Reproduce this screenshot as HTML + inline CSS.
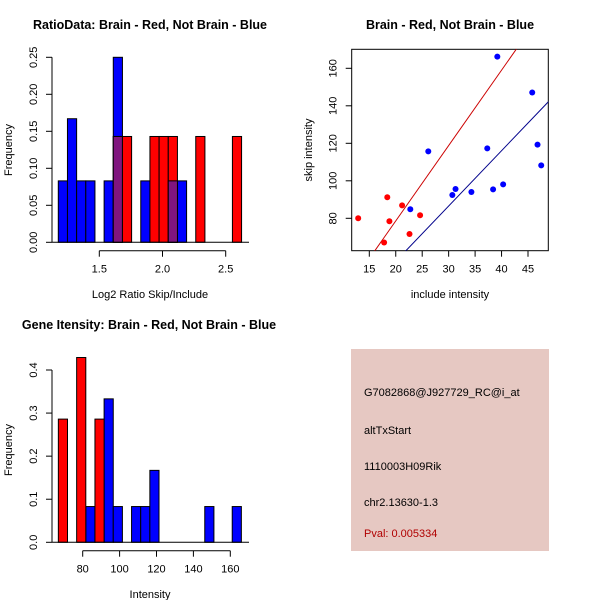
<!DOCTYPE html>
<html><head><meta charset="utf-8"><style>
html,body{margin:0;padding:0;background:#fff;width:600px;height:600px;overflow:hidden}
svg{display:block;font-family:"Liberation Sans",Arial,sans-serif}
.t{font-weight:bold;font-size:12.5px}
.l{font-size:11px}
.k{font-size:11px}
</style></head><body>
<svg id="s" width="600" height="600" xmlns="http://www.w3.org/2000/svg">
<text class="t" x="150" y="29" text-anchor="middle">RatioData: Brain - Red, Not Brain - Blue</text>
<text class="t" x="450" y="29" text-anchor="middle">Brain - Red, Not Brain - Blue</text>
<text class="t" x="149" y="329" text-anchor="middle">Gene Itensity: Brain - Red, Not Brain - Blue</text>
<text class="l" x="150" y="298" text-anchor="middle">Log2 Ratio Skip/Include</text>
<text class="l" x="12" y="150" text-anchor="middle" transform="rotate(-90 12 150)">Frequency</text>
<text class="l" x="450" y="298" text-anchor="middle">include intensity</text>
<text class="l" x="312" y="150" text-anchor="middle" transform="rotate(-90 312 150)">skip intensity</text>
<text class="l" x="150" y="598" text-anchor="middle">Intensity</text>
<text class="l" x="12" y="450" text-anchor="middle" transform="rotate(-90 12 450)">Frequency</text>
<g>
<rect x="351" y="349" width="198" height="202" fill="#e6c8c2"/>
<text class="k" x="364" y="396">G7082868@J927729_RC@i_at</text>
<text class="k" x="364" y="434">altTxStart</text>
<text class="k" x="364" y="470">1110003H09Rik</text>
<text class="k" x="364" y="506">chr2.13630-1.3</text>
<text class="k" x="364" y="537" fill="#b00000">Pval: 0.005334</text>
</g>
</svg>
<script>
// ---- Panel 1: ratio histogram ----
const ratioBinStart = 1.1756;
const ratioBinWidth = 0.0725;
const ratioBlue = [0.083,0.167,0.083,0.083,0,0.083,0.25,0,0,0.083,0,0,0.083,0.083,0,0,0,0,0,0];
const ratioRed  = [0,0,0,0,0,0,0.143,0.143,0,0,0.143,0.143,0.143,0,0,0.143,0,0,0,0.143];
const ratioXTicks = [1.5,2.0,2.5];
const ratioXLabels = ["1.5","2.0","2.5"];
const ratioYTicks = [0,0.05,0.10,0.15,0.20,0.25];
const ratioYLabels = ["0.00","0.05","0.10","0.15","0.20","0.25"];
// ---- Panel 2: scatter ----
const redX = [12.9,18.4,18.8,17.8,21.2,22.6,24.6];
const redY = [80.0,91.2,78.4,67.1,86.9,71.6,81.6];
const blueX = [22.75,26.15,30.7,31.3,34.3,37.3,38.4,40.3,39.2,45.8,46.8,47.5];
const blueY = [84.8,115.7,92.4,95.6,94.0,117.3,95.4,98.1,166.2,147.1,119.3,108.2];
const redFit = [-1.8,4.02];
const blueFit = [-1.95,2.95];
const scatXTicks = [15,20,25,30,35,40,45];
const scatYTicks = [80,100,120,140,160];
// ---- Panel 3: intensity histogram ----
const intBinStart = 66.8;
const intBinWidth = 4.96;
const intRed  = [0.286,0,0.429,0,0.286,0,0,0,0,0,0,0,0,0,0,0,0,0,0,0];
const intBlue = [0,0,0,0.083,0,0.333,0.083,0,0.083,0.083,0.167,0,0,0,0,0,0.083,0,0,0.083];
const intXTicks = [80,100,120,140,160];
const intYTicks = [0,0.1,0.2,0.3,0.4];
const intYLabels = ["0.0","0.1","0.2","0.3","0.4"];

const NS="http://www.w3.org/2000/svg";
const svg=document.getElementById('s');
function mk(tag,attrs,parent){const e=document.createElementNS(NS,tag);for(const k in attrs)e.setAttribute(k,attrs[k]);(parent||svg).appendChild(e);return e;}

const r1x=v=>99.3+(v-1.5)*126.4, r1y=v=>242.3-v*740;
const s2x=v=>369.3+(v-15)*5.29, s2y=v=>218.3-(v-80)*1.875;
const i3x=v=>82.7+(v-80)*1.845, i3y=v=>542.3-v*430.75;

function hist(start,w,blue,red,fx,fy,name){
  const g=mk('g',{});
  
  
  for(let i=0;i<blue.length;i++){
    const x0=fx(start+i*w),x1=fx(start+(i+1)*w);
    if(blue[i]>0){const r=mk('rect',{x:x0,y:fy(blue[i]),width:x1-x0,height:fy(0)-fy(blue[i]),fill:'#0000ff',stroke:'#000','stroke-width':1},g);
      
      }
  }
  for(let i=0;i<red.length;i++){
    const x0=fx(start+i*w),x1=fx(start+(i+1)*w);
    if(red[i]>0){const r=mk('rect',{x:x0,y:fy(red[i]),width:x1-x0,height:fy(0)-fy(red[i]),fill:'#ff0000',stroke:'#000','stroke-width':1},g);
      
      
      const m=Math.min(red[i],blue[i]||0);
      if(m>0){const p=mk('rect',{x:x0,y:fy(m),width:x1-x0,height:fy(0)-fy(m),fill:'#80157f',stroke:'#000','stroke-width':1},g);
        
        }
    }
  }
  return g;
}
function yaxis(x,ticks,labels,fy,name,line){
  const g=mk('g',{stroke:'#000','stroke-width':1});
  
  
  if(line) mk('line',{x1:x,x2:x,y1:fy(ticks[0]),y2:fy(ticks[ticks.length-1])},g);
  ticks.forEach((t,i)=>{mk('line',{x1:x-6,x2:x,y1:fy(t),y2:fy(t)},g);
    const lx=x-15;
    const tx=mk('text',{x:lx,y:fy(t),'text-anchor':'middle',transform:`rotate(-90 ${lx} ${fy(t)})`,'font-size':'11px',stroke:'none',fill:'#000'},g);
    tx.textContent=labels[i];
    
    });
}
function xaxis(y,ticks,labels,fx,name,line){
  const g=mk('g',{stroke:'#000','stroke-width':1});
  
  
  if(line) mk('line',{x1:fx(ticks[0]),x2:fx(ticks[ticks.length-1]),y1:y,y2:y},g);
  ticks.forEach((t,i)=>{mk('line',{x1:fx(t),x2:fx(t),y1:y,y2:y+6},g);
    const tx=mk('text',{x:fx(t),y:y+22,'text-anchor':'middle','font-size':'11px',stroke:'none',fill:'#000'},g);
    tx.textContent=labels[i];
    
    });
}

// Panel 1
hist(ratioBinStart,ratioBinWidth,ratioBlue,ratioRed,r1x,r1y,'ratio-histogram');
const b1=mk('line',{x1:52,x2:249,y1:242.3,y2:242.3,stroke:'#000','stroke-width':1});


yaxis(52,ratioYTicks,ratioYLabels,r1y,'ratio-y-axis',true);
xaxis(250.7,ratioXTicks,ratioXLabels,r1x,'ratio-x-axis',true);

// Panel 2
const box=mk('rect',{x:351.7,y:49.3,width:196.6,height:201.4,fill:'none',stroke:'#000','stroke-width':1});


const cp=mk('clipPath',{id:'cp'});
mk('rect',{x:351.7,y:49.3,width:196.6,height:201.4},cp);
function fitLine(f,col,name){
  const xa=10,xb=55;
  const l=mk('line',{x1:s2x(xa),y1:s2y(f[0]+f[1]*xa),x2:s2x(xb),y2:s2y(f[0]+f[1]*xb),stroke:col,'stroke-width':1,'clip-path':'url(#cp)'});
  
  
}
fitLine(redFit,'#cc0000','red-fit-line');
fitLine(blueFit,'#00008b','blue-fit-line');
redX.forEach((x,i)=>{const c=mk('circle',{cx:s2x(x),cy:s2y(redY[i]),r:3,fill:'#ff0000'});
  
  });
blueX.forEach((x,i)=>{const c=mk('circle',{cx:s2x(x),cy:s2y(blueY[i]),r:3,fill:'#0000ff'});
  
  });
yaxis(351.7,scatYTicks,scatYTicks.map(String),s2y,'scatter-y-axis',false);
xaxis(250.7,scatXTicks,scatXTicks.map(String),s2x,'scatter-x-axis',false);

// Panel 3
hist(intBinStart,intBinWidth,intBlue,intRed,i3x,i3y,'intensity-histogram');
const b3=mk('line',{x1:52,x2:249,y1:542.3,y2:542.3,stroke:'#000','stroke-width':1});


yaxis(52,intYTicks,intYLabels,i3y,'intensity-y-axis',true);
xaxis(550.7,intXTicks,intXTicks.map(String),i3x,'intensity-x-axis',true);
</script>
</body></html>
